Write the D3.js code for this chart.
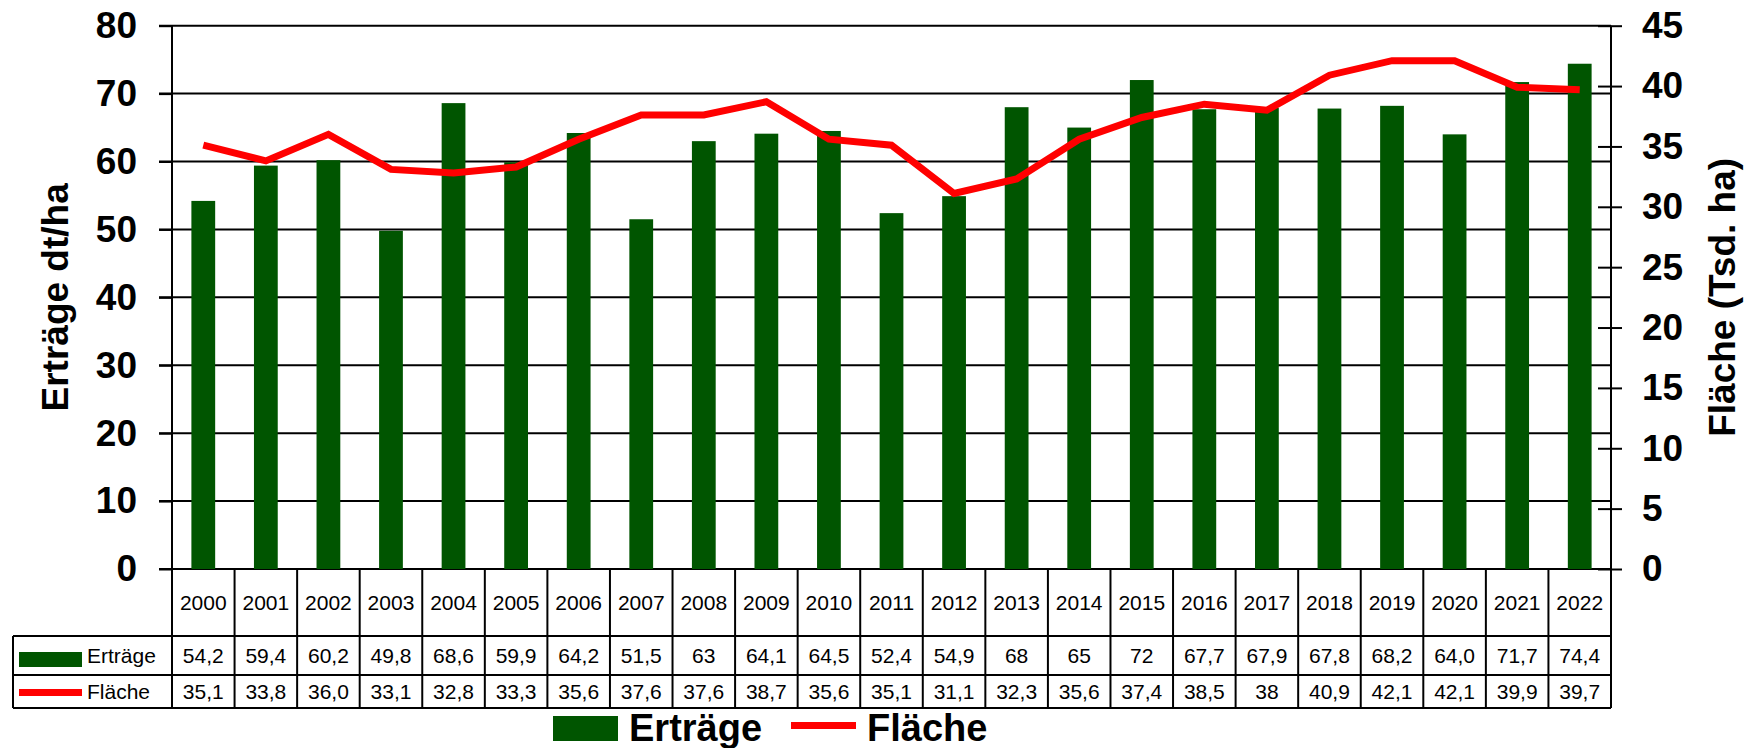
<!DOCTYPE html>
<html>
<head>
<meta charset="utf-8">
<script src="https://cdn.jsdelivr.net/npm/d3@7"></script>
<style>
  body { margin: 0; background: #fff; }
  svg { display: block; font-family: Arial, "Liberation Sans", sans-serif; }
</style>
</head>
<body>
<script>
// data as shown in the table under the chart
const years = ["2000","2001","2002","2003","2004","2005","2006","2007","2008","2009","2010","2011",
  "2012","2013","2014","2015","2016","2017","2018","2019","2020","2021","2022"];
const ertraegeLabels = ["54,2","59,4","60,2","49,8","68,6","59,9","64,2","51,5","63","64,1","64,5","52,4",
  "54,9","68","65","72","67,7","67,9","67,8","68,2","64,0","71,7","74,4"];
const flaecheLabels = ["35,1","33,8","36,0","33,1","32,8","33,3","35,6","37,6","37,6","38,7","35,6","35,1",
  "31,1","32,3","35,6","37,4","38,5","38","40,9","42,1","42,1","39,9","39,7"];
const leftTicks = [0, 10, 20, 30, 40, 50, 60, 70, 80];
const rightTicks = [0, 5, 10, 15, 20, 25, 30, 35, 40, 45];

const ertraege = ertraegeLabels.map(s => +s.replace(",", "."));
const flaeche = flaecheLabels.map(s => +s.replace(",", "."));

const W = 1751, H = 748;
const plotLeft = 172, plotRight = 1611, plotTop = 25.7, plotBottom = 569;
const row1 = 636, row2 = 675, row3 = 708, tableLeft = 13;

const svg = d3.select("body").append("svg")
  .attr("width", W)
  .attr("height", H);

const x = d3.scaleBand()
  .domain(years)
  .range([plotLeft, plotRight])
  .padding(0);

const yL = d3.scaleLinear().domain([0, 80]).range([plotBottom, plotTop]);
const yR = d3.scaleLinear().domain([0, 45]).range([plotBottom, plotTop]);

// gridlines
svg.append("g")
  .selectAll("line")
  .data(leftTicks)
  .join("line")
  .attr("x1", plotLeft - 13)
  .attr("x2", plotRight)
  .attr("y1", d => yL(d))
  .attr("y2", d => yL(d))
  .attr("stroke", "#000")
  .attr("stroke-width", 2);

// bars
const barW = x.bandwidth() * 0.38;
svg.append("g")
  .selectAll("rect")
  .data(years)
  .join("rect")
  .attr("x", (d, i) => x(d) + (x.bandwidth() - barW) / 2)
  .attr("y", (d, i) => yL(ertraege[i]))
  .attr("width", barW)
  .attr("height", (d, i) => yL(0) - yL(ertraege[i]))
  .attr("fill", "#005500");

// line
const line = d3.line()
  .x((d, i) => x(years[i]) + x.bandwidth() / 2)
  .y(d => yR(d));

svg.append("path")
  .datum(flaeche)
  .attr("d", line)
  .attr("fill", "none")
  .attr("stroke", "#ff0000")
  .attr("stroke-width", 7);

// left axis labels
const leftAxis = svg.append("g")
  .attr("transform", `translate(${plotLeft},0)`)
  .call(d3.axisLeft(yL).tickValues(leftTicks).tickSize(13).tickPadding(22));
leftAxis.select(".domain").remove();
leftAxis.selectAll("line").attr("stroke-width", 2);
leftAxis.selectAll("text")
  .attr("fill", "#000")
  .style("font-size", "37px")
  .style("font-weight", "bold")
  .style("font-family", "Arial, 'Liberation Sans', sans-serif");

// right axis
const rightAxis = svg.append("g")
  .attr("transform", `translate(${plotRight},0)`)
  .call(d3.axisRight(yR).tickValues(rightTicks).tickSize(11).tickPadding(20));
rightAxis.select(".domain").remove();
rightAxis.selectAll("line").attr("x1", -13).attr("stroke-width", 2);
rightAxis.selectAll("text")
  .attr("fill", "#000")
  .style("font-size", "37px")
  .style("font-weight", "bold")
  .style("font-family", "Arial, 'Liberation Sans', sans-serif");

// axis lines running down through the table
svg.append("line")
  .attr("x1", plotLeft).attr("x2", plotLeft)
  .attr("y1", plotTop).attr("y2", row3)
  .attr("stroke", "#000").attr("stroke-width", 2);
svg.append("line")
  .attr("x1", plotRight).attr("x2", plotRight)
  .attr("y1", plotTop).attr("y2", row3)
  .attr("stroke", "#000").attr("stroke-width", 2);

// axis titles
svg.append("text")
  .attr("transform", `translate(68,${(plotTop + plotBottom) / 2}) rotate(-90)`)
  .attr("text-anchor", "middle")
  .style("font-size", "37px")
  .style("font-weight", "bold")
  .text("Erträge dt/ha");

svg.append("text")
  .attr("transform", `translate(1735,${(plotTop + plotBottom) / 2}) rotate(-90)`)
  .attr("text-anchor", "middle")
  .style("font-size", "37px")
  .style("font-weight", "bold")
  .text("Fläche (Tsd. ha)");

// data table
const table = svg.append("g");

// vertical cell borders
table.selectAll("line.v")
  .data(years.slice(1))
  .join("line")
  .attr("class", "v")
  .attr("x1", d => x(d)).attr("x2", d => x(d))
  .attr("y1", plotBottom).attr("y2", row3)
  .attr("stroke", "#000").attr("stroke-width", 2);

[row1, row2, row3].forEach(yy => {
  table.append("line")
    .attr("x1", tableLeft).attr("x2", plotRight)
    .attr("y1", yy).attr("y2", yy)
    .attr("stroke", "#000").attr("stroke-width", 2);
});
table.append("line")
  .attr("x1", tableLeft).attr("x2", tableLeft)
  .attr("y1", row1).attr("y2", row3)
  .attr("stroke", "#000").attr("stroke-width", 2);

const cellText = (arr, yc) => table.append("g")
  .selectAll("text")
  .data(arr)
  .join("text")
  .attr("x", (d, i) => x(years[i]) + x.bandwidth() / 2)
  .attr("y", yc)
  .attr("dy", "0.35em")
  .attr("text-anchor", "middle")
  .style("font-size", "21px")
  .text(d => d);

cellText(years, (plotBottom + row1) / 2);
cellText(ertraegeLabels, (row1 + row2) / 2);
cellText(flaecheLabels, (row2 + row3) / 2);

// legend keys inside table
table.append("rect")
  .attr("x", 19).attr("y", 652).attr("width", 63).attr("height", 15)
  .attr("fill", "#005500");
table.append("text")
  .attr("x", 87).attr("y", (row1 + row2) / 2).attr("dy", "0.35em")
  .style("font-size", "21px").text("Erträge");
table.append("rect")
  .attr("x", 19).attr("y", 689).attr("width", 63).attr("height", 7)
  .attr("fill", "#ff0000");
table.append("text")
  .attr("x", 87).attr("y", (row2 + row3) / 2).attr("dy", "0.35em")
  .style("font-size", "21px").text("Fläche");

// bottom legend
const legend = svg.append("g");
legend.append("rect")
  .attr("x", 553).attr("y", 716).attr("width", 65).attr("height", 25)
  .attr("fill", "#005500");
legend.append("text")
  .attr("x", 629).attr("y", 741)
  .style("font-size", "38px").style("font-weight", "bold")
  .text("Erträge");
legend.append("line")
  .attr("x1", 791).attr("x2", 856)
  .attr("y1", 725.5).attr("y2", 725.5)
  .attr("stroke", "#ff0000").attr("stroke-width", 7);
legend.append("text")
  .attr("x", 867).attr("y", 741)
  .style("font-size", "38px").style("font-weight", "bold")
  .text("Fläche");
</script>
</body>
</html>
